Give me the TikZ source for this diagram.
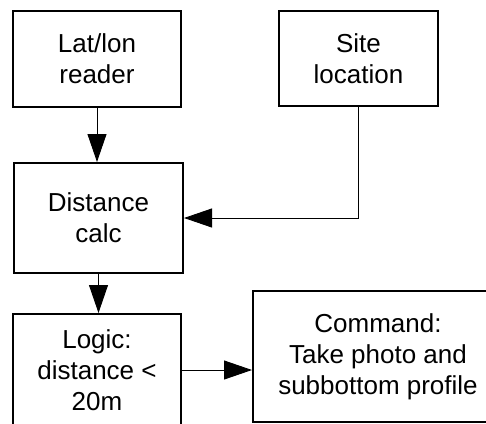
\documentclass[tikz,border=0pt]{standalone}
\usepackage{fontspec}
\setmainfont{Liberation Sans}
\usetikzlibrary{arrows.meta, positioning}

\begin{document}
\begin{tikzpicture}[
        x=1pt, y=-1pt,
        block/.style={rectangle, draw=black, line width=2pt, align=center, inner sep=0pt, font=\fontsize{26}{31}\selectfont},
        arrow/.style={-{Triangle[length=28pt, width=19pt]}, line width=0.9pt, color=black}
    ]

    % Frame of the picture
    \useasboundingbox (0,0) rectangle (486,423);
    \clip (0,0) rectangle (486,423);

    % Inputs
    \node[block, anchor=north west, minimum width=168pt, minimum height=96pt] (reader) at (12,10) {Lat/lon\\reader};
    \node[block, anchor=north west, minimum width=159pt, minimum height=95pt] (site) at (278,10) {Site\\location};

    % Processing
    \node[block, anchor=north west, minimum width=169pt, minimum height=110pt] (calc) at (13,162) {Distance\\calc};
    \node[block, anchor=north west, minimum width=168pt, minimum height=112pt] (logic) at (12,313) {Logic:\\distance <\\20m};

    % Output
    \node[block, anchor=north west, minimum width=250pt, minimum height=131pt] (command) at (252,290) {Command:\\Take photo and\\subbottom profile};

    % Connections
    \draw[arrow] (reader.south) -- (reader.south |- calc.north);
    \draw[arrow] (site.south) |- (calc.east);
    \draw[arrow] (calc.south) -- (calc.south |- logic.north);
    \draw[arrow] (logic.east) -- (logic.east -| command.west);

\end{tikzpicture}
\end{document}
